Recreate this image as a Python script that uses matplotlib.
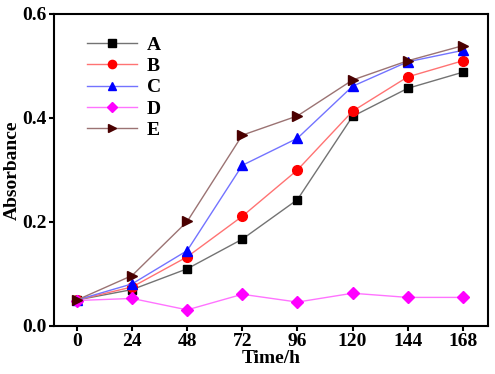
import matplotlib.pyplot as plt
import matplotlib.colors as mcolors
import numpy as np

plt.rcParams['font.family'] = ['Liberation Serif', 'DejaVu Serif']
plt.rcParams['font.weight'] = 'bold'

time_h = [0, 24, 48, 72, 96, 120, 144, 168]
A = [0.050, 0.070, 0.110, 0.167, 0.243, 0.403, 0.457, 0.488]
B = [0.050, 0.075, 0.133, 0.211, 0.300, 0.413, 0.479, 0.510]
C = [0.050, 0.081, 0.145, 0.309, 0.361, 0.461, 0.508, 0.530]
D = [0.049, 0.053, 0.031, 0.061, 0.046, 0.063, 0.055, 0.055]
E = [0.050, 0.097, 0.201, 0.367, 0.404, 0.473, 0.510, 0.539]
names = ['A', 'B', 'C', 'D', 'E']
colors = ['black', 'red', 'blue', 'magenta', '#4a0000']
markers = ['s', 'o', '^', 'D', '>']
msizes = [6, 7, 7, 6, 7]


def faint(c, a=0.55):
    r, g, b = mcolors.to_rgb(c)
    return (1 - a + a * r, 1 - a + a * g, 1 - a + a * b)


fig = plt.figure(figsize=(4.95, 3.74), dpi=100)
ax = fig.add_axes([54/495, 1-326/374, 434/495, 312/374])

for y, n, c, m, ms in zip([A, B, C, D, E], names, colors, markers, msizes):
    ax.plot(time_h, y, color=faint(c), lw=1.0, marker=m, ms=ms, mfc=c, mec=c, label=n)

ax.legend(loc='upper left', bbox_to_anchor=(0.035, 0.985), frameon=False,
          fontsize=14, handlelength=2.6, labelspacing=0.19, handletextpad=0.5,
          markerscale=0.85)

ax.set_xlim(-10, 179)
ax.set_ylim(0, 0.6)
ax.set_xticks(time_h)
ax.set_yticks([0.0, 0.2, 0.4, 0.6])
ax.set_yticklabels(['0.0', '0.2', '0.4', '0.6'])
ax.tick_params(direction='out', length=3.5, width=1.5, pad=1.5, labelsize=14, top=False, right=False)
for s in ax.spines.values():
    s.set_linewidth(1.5)
ax.set_xlabel('Time/h', fontsize=14, fontweight='bold', labelpad=0)
ax.set_ylabel('Absorbance', fontsize=14, fontweight='bold', labelpad=1)

plt.savefig('out.png', dpi=100)
